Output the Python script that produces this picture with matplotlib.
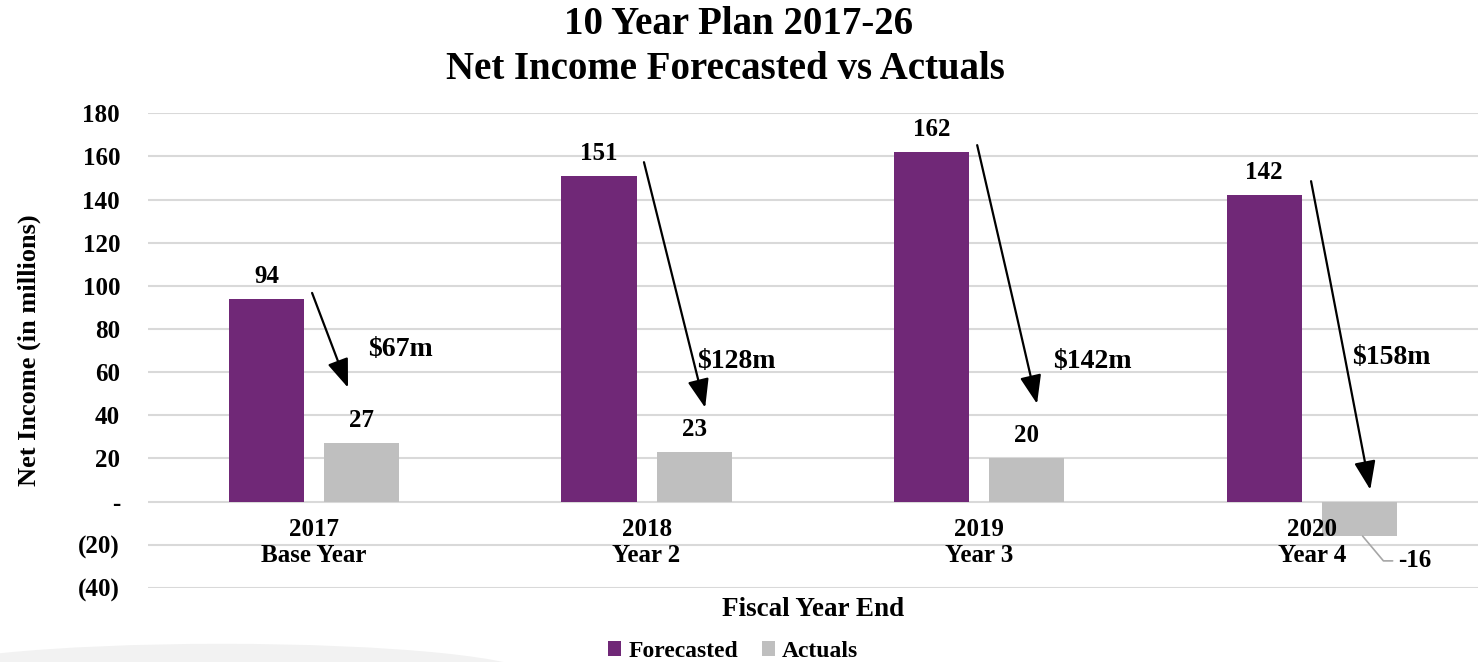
import matplotlib
matplotlib.use("Agg")
import matplotlib.pyplot as plt
from matplotlib.patches import Ellipse
import numpy as np

plt.rcParams['font.family'] = ['Liberation Serif', 'DejaVu Serif']
plt.rcParams['font.weight'] = 'bold'

years = ["2017", "2018", "2019", "2020"]
phases = ["Base Year", "Year 2", "Year 3", "Year 4"]
forecasted = [94, 151, 162, 142]
actuals = [27, 23, 20, -16]
gap_labels = ["$67m", "$128m", "$142m", "$158m"]
y_ticks = [180, 160, 140, 120, 100, 80, 60, 40, 20, 0, -20, -40]

PURPLE = "#702877"
GRAY = "#BFBFBF"
GRID = "#D9D9D9"


def fmt_tick(v):
    if v == 0:
        return "-"
    if v < 0:
        return f"({abs(v)})"
    return f"{v}"


fig = plt.figure(figsize=(14.78, 6.62), dpi=100)
# faint backdrop swoosh at the lower left
fig.patches.append(Ellipse((0.15, -0.02), 0.42, 0.095, transform=fig.transFigure,
                           facecolor="#F2F2F2", edgecolor="none", zorder=0))

ax = fig.add_axes([0.1, 0.112, 0.9, 0.717])
ax.set_facecolor("none")

x = np.arange(len(years))
w = 0.226
off = 0.143
b1 = ax.bar(x - off, forecasted, w, color=PURPLE, zorder=3, label="Forecasted")
b2 = ax.bar(x + off, actuals, w, color=GRAY, zorder=3, label="Actuals")

ax.set_xlim(-0.5, len(years) - 0.5)
ax.set_ylim(-40, 180)
ax.set_yticks(y_ticks)
ax.set_yticklabels([fmt_tick(v) for v in y_ticks])
ax.grid(axis="y", color=GRID, linewidth=1.5, zorder=0)
ax.set_axisbelow(True)
for s in ax.spines.values():
    s.set_visible(False)
ax.tick_params(axis="both", length=0, labelsize=18)
ax.tick_params(axis="y", pad=20)

ax.set_xticks(x)
ax.set_xticklabels([])
for i in x:
    ax.text(i, -13, years[i], ha="center", va="center", fontsize=18, fontweight="bold")
    ax.text(i, -25, phases[i], ha="center", va="center", fontsize=18, fontweight="bold")

# value labels
for i, v in enumerate(forecasted):
    ax.annotate(f"{v}", (x[i] - off, v), xytext=(0, 8), textcoords="offset points",
                ha="center", va="bottom", fontsize=18, fontweight="bold")
for i, v in enumerate(actuals):
    if v >= 0:
        ax.annotate(f"{v}", (x[i] + off, v), xytext=(0, 8), textcoords="offset points",
                    ha="center", va="bottom", fontsize=18, fontweight="bold")
    else:
        ax.annotate(f"{v}", xy=(x[i] + off + 0.01, v), xytext=(x[i] + 0.26, -27.5),
                    ha="left", va="center", fontsize=18, fontweight="bold",
                    arrowprops=dict(arrowstyle="-", color="#A6A6A6", lw=1.2,
                                    connectionstyle="angle,angleA=0,angleB=-50,rad=0",
                                    shrinkA=2, shrinkB=0))

# shortfall arrows from forecast to actual
arrow_start = [(-0.006, 96.7), (0.992, 157.3), (1.994, 165.2), (2.998, 148.5)]
arrow_end = [(0.102, 52.8), (1.176, 43.5), (2.174, 45.3), (3.176, 5.5)]
label_pos = [(0.162, 70.3), (1.152, 64.8), (2.223, 64.8), (3.122, 66.6)]
for s, e, p, t in zip(arrow_start, arrow_end, label_pos, gap_labels):
    ax.annotate("", xy=e, xytext=s,
                arrowprops=dict(arrowstyle="-|>,head_length=0.8,head_width=0.3",
                                mutation_scale=22, color="black", lw=1.6,
                                shrinkA=0, shrinkB=0))
    ax.text(p[0], p[1], t, ha="left", va="center", fontsize=20, fontweight="bold")

ax.set_ylabel("Net Income (in millions)", fontsize=19, fontweight="bold")
ax.yaxis.set_label_coords(-0.08, 0.5)
ax.set_xlabel("Fiscal Year End", fontsize=19.5, fontweight="bold")
ax.xaxis.set_label_coords(0.5, -0.02)

fig.text(0.5, 0.963, "10 Year Plan 2017-26", ha="center", va="center",
         fontsize=28, fontweight="bold")
fig.text(0.491, 0.895, "Net Income Forecasted vs Actuals", ha="center", va="center",
         fontsize=28, fontweight="bold")

leg = fig.legend(handles=[b1, b2], loc="center", bbox_to_anchor=(0.496, 0.016),
                 ncol=2, frameon=False, fontsize=17, handlelength=0.55,
                 handleheight=0.55, handletextpad=0.3, columnspacing=1.0)

fig.savefig("out.png", dpi=100)
